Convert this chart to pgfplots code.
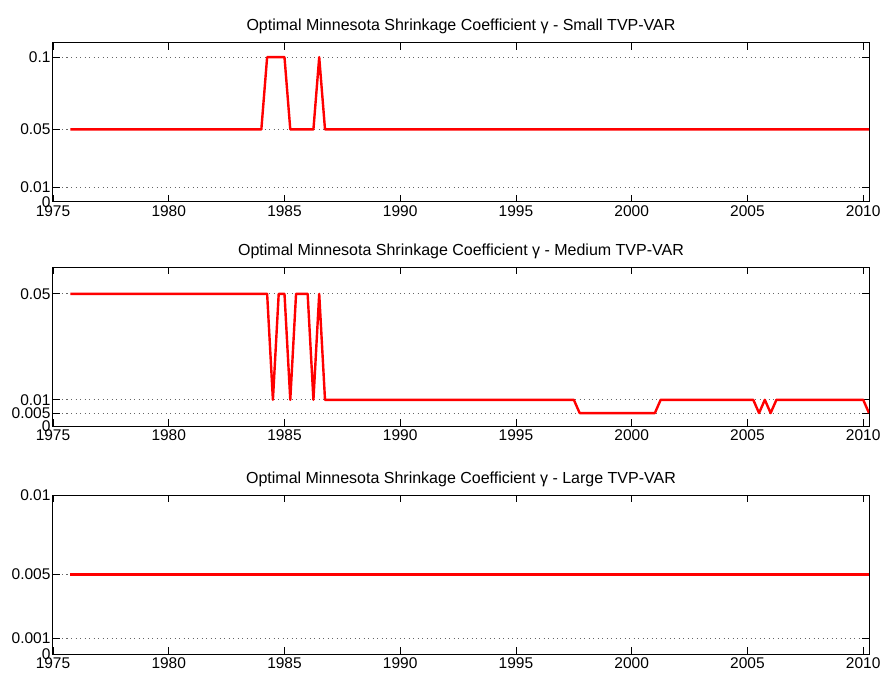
\documentclass[border=0pt]{standalone}
\usepackage{pgfplots}
\pgfplotsset{compat=1.18}
\usepackage{fontspec}
\setmainfont{Liberation Sans}
\begin{document}
\begin{tikzpicture}
\path[use as bounding box] (0pt,0pt) rectangle (884pt,-675pt);
\pgfplotsset{
 panel/.style={
  anchor=north west, scale only axis, width=816pt, height=159pt,
  xmin=1975, xmax=2010.25, xtick={1975,1980,...,2010},
  scaled y ticks=false,
  /pgf/number format/1000 sep={}, /pgf/number format/assume math mode=true,
  tick align=inside, major tick length=7pt,
  tick style={black, line width=0.8pt},
  axis line style={black, line width=1pt},
  ymajorgrids, grid style={black!60, line width=0.8pt, dash pattern=on 1pt off 3.5pt},
  ticklabel style={font=\fontsize{15.5}{15.5}\selectfont},
  yticklabel style={xshift=1pt},
  xticklabel style={yshift=0pt},
  title style={font=\fontsize{16}{16}\selectfont, yshift=-1pt},
 },
 series/.style={red, line width=2.4pt, line join=round, mark=none},
}
\begin{axis}[panel, at={(53pt,-42.7pt)}, ymin=0, ymax=0.11,
  ytick={0,0.01,0.05,0.1}, yticklabels={0,0.01,0.05,0.1},
  title={Optimal Minnesota Shrinkage Coefficient γ - Small TVP-VAR}]
\addplot[series] coordinates {(1975.75,0.05) (1984.0,0.05) (1984.25,0.1) (1985.0,0.1) (1985.25,0.05) (1986.25,0.05) (1986.5,0.1) (1986.75,0.05) (2010.25,0.05)};
\end{axis}
\begin{axis}[panel, at={(53pt,-267.3pt)}, ymin=0, ymax=0.06,
  ytick={0,0.005,0.01,0.05}, yticklabels={0,0.005,0.01,0.05},
  title={Optimal Minnesota Shrinkage Coefficient γ - Medium TVP-VAR}]
\addplot[series] coordinates {(1975.75,0.05) (1984.25,0.05) (1984.5,0.01) (1984.75,0.05) (1985.0,0.05) (1985.25,0.01) (1985.5,0.05) (1986.0,0.05) (1986.25,0.01) (1986.5,0.05) (1986.75,0.01) (1997.5,0.01) (1997.75,0.005) (2001.0,0.005) (2001.25,0.01) (2005.25,0.01) (2005.5,0.005) (2005.75,0.01) (2006.0,0.005) (2006.25,0.01) (2010.0,0.01) (2010.25,0.005)};
\end{axis}
\begin{axis}[panel, at={(53pt,-495pt)}, ymin=0, ymax=0.01,
  ytick={0,0.001,0.005,0.01}, yticklabels={0,0.001,0.005,0.01},
  title={Optimal Minnesota Shrinkage Coefficient γ - Large TVP-VAR}]
\addplot[series] coordinates {(1975.75,0.005) (2010.25,0.005)};
\end{axis}
\end{tikzpicture}
\end{document}
